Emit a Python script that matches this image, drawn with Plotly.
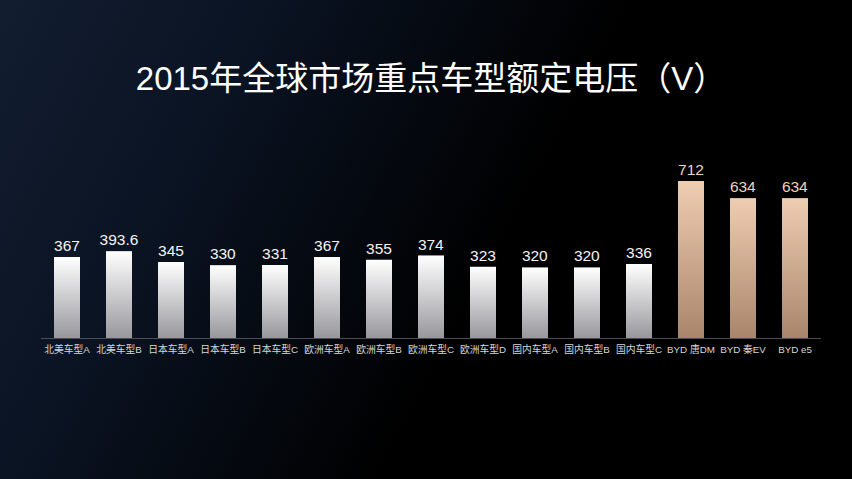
import base64
import plotly.graph_objects as go

# === data ===
models = ["北美车型A", "北美车型B", "日本车型A", "日本车型B", "日本车型C",
          "欧洲车型A", "欧洲车型B", "欧洲车型C", "欧洲车型D",
          "国内车型A", "国内车型B", "国内车型C",
          "BYD 唐DM", "BYD 秦EV", "BYD e5"]
voltage = [367, 393.6, 345, 330, 331, 367, 355, 374, 323, 320, 320, 336, 712, 634, 634]
value_labels = ["367", "393.6", "345", "330", "331", "367", "355", "374", "323",
                "320", "320", "336", "712", "634", "634"]
is_byd = [m.startswith("BYD") for m in models]

title = "2015年全球市场重点车型额定电压（V）"

# === layout sizes ===
W, H = 852, 479
ml, mr, mt, mb = 41, 31, 150, 141
pw, ph = W - ml - mr, H - mt - mb
bar_w = 0.5


def svg_uri(svg):
    return "data:image/svg+xml;base64," + base64.b64encode(svg.encode("utf-8")).decode("ascii")


def vgrad(top, bottom):
    return svg_uri(
        '<svg xmlns="http://www.w3.org/2000/svg" width="10" height="100" viewBox="0 0 10 100" '
        'preserveAspectRatio="none"><defs><linearGradient id="g" x1="0" y1="0" x2="0" y2="1">'
        f'<stop offset="0" stop-color="{top}"/><stop offset="1" stop-color="{bottom}"/>'
        '</linearGradient></defs><rect width="10" height="100" fill="url(#g)"/></svg>'
    )


bg_svg = svg_uri(
    f'<svg xmlns="http://www.w3.org/2000/svg" width="{W}" height="{H}" viewBox="0 0 {W} {H}" '
    'preserveAspectRatio="none"><defs>'
    '<linearGradient id="h" x1="0" y1="0" x2="1" y2="0.3">'
    '<stop offset="0" stop-color="#121d30"/><stop offset="0.3" stop-color="#0a1322"/>'
    '<stop offset="0.68" stop-color="#000000"/><stop offset="1" stop-color="#000000"/>'
    '</linearGradient></defs>'
    f'<rect width="{W}" height="{H}" fill="url(#h)"/></svg>'
)

white_grad = vgrad("#ffffff", "#98979c")
gold_grad = vgrad("#efcdb1", "#a9866b")

bar_colors = ["#e0c0a5" if b else "#d8d8da" for b in is_byd]
text_colors = ["#ecd3bf" if b else "#f4f4f4" for b in is_byd]

fig = go.Figure()
fig.add_trace(go.Bar(
    x=models,
    y=voltage,
    width=bar_w,
    marker=dict(color=bar_colors, line=dict(width=0)),
    text=value_labels,
    textposition="outside",
    constraintext="none",
    textfont=dict(size=15.5, color=text_colors, family="Liberation Sans, Arial, sans-serif"),
    cliponaxis=False,
    hoverinfo="skip",
))

images = [dict(source=bg_svg, xref="paper", yref="paper",
               x=-ml / pw, y=1 + mt / ph, sizex=W / pw, sizey=H / ph,
               xanchor="left", yanchor="top", sizing="stretch", layer="below")]

# gradient face for each bar, placed from the bar's own value on the axes
for i, (v, b) in enumerate(zip(voltage, is_byd)):
    images.append(dict(source=gold_grad if b else white_grad, xref="x", yref="y",
                       x=i, y=v, sizex=bar_w, sizey=v,
                       xanchor="center", yanchor="top", sizing="stretch", layer="above"))

fig.update_layout(
    width=W, height=H,
    margin=dict(l=ml, r=mr, t=mt, b=mb),
    paper_bgcolor="#000000",
    plot_bgcolor="rgba(0,0,0,0)",
    showlegend=False,
    images=images,
    title=dict(text=title, x=0.5, xref="paper", xanchor="center",
               y=1 - 78 / H, yref="container", yanchor="middle",
               font=dict(size=33, color="#ffffff", family="Liberation Sans, Noto Sans CJK SC")),
    xaxis=dict(
        type="category",
        range=[-0.5, len(models) - 0.5],
        showgrid=False, zeroline=False,
        showline=True, linecolor="#4a4d55", linewidth=1,
        ticks="", tickangle=0, ticklabelstandoff=2,
        tickfont=dict(size=9.8, color="#d6d6d6", family="Liberation Sans, Noto Sans CJK SC"),
        fixedrange=True,
    ),
    yaxis=dict(
        range=[0, ph / 0.2205],
        visible=False, showgrid=False, zeroline=False,
        fixedrange=True,
    ),
)

fig.write_html("out.html", config={"displayModeBar": False},
               post_script="document.body.style.margin='0';document.body.style.background='#000';")
